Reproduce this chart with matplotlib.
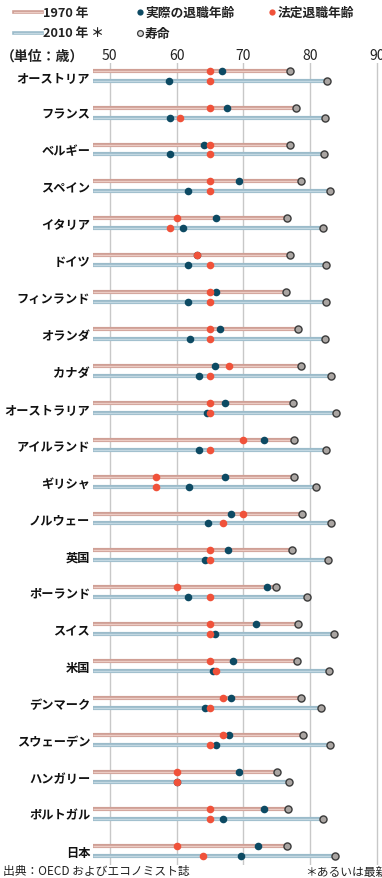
import matplotlib.pyplot as plt
from matplotlib.lines import Line2D

plt.rcParams['font.family'] = ['Noto Sans CJK JP', 'DejaVu Sans']

countries = ["オーストリア", "フランス", "ベルギー", "スペイン", "イタリア", "ドイツ",
             "フィンランド", "オランダ", "カナダ", "オーストラリア", "アイルランド",
             "ギリシャ", "ノルウェー", "英国", "ポーランド", "スイス", "米国",
             "デンマーク", "スウェーデン", "ハンガリー", "ポルトガル", "日本"]

# 1970
actual_1970 = [66.75, 67.55, 64.1, 69.3, 65.85, 63.0, 65.85, 66.5, 65.8, 67.3, 73.05,
               67.3, 68.15, 67.65, 73.5, 71.9, 68.45, 68.2, 67.85, 69.3, 73.1, 72.25]
legal_1970 = [65, 65, 65, 65, 60, 63, 65, 65, 67.9, 65, 70,
              57, 70, 65, 60, 65, 65, 67, 67, 60, 65, 60]
life_1970 = [77.0, 77.9, 77.05, 78.65, 76.6, 77.05, 76.35, 78.25, 78.65, 77.45, 77.55,
             77.6, 78.8, 77.25, 74.9, 78.25, 78.1, 78.65, 78.9, 75.0, 76.75, 76.5]

# 2010 (or latest)
actual_2010 = [58.85, 59.0, 59.05, 61.75, 61.0, 61.75, 61.75, 62.05, 63.35, 64.6, 63.3,
               61.8, 64.7, 64.2, 61.7, 65.75, 65.45, 64.25, 65.95, 60.0, 67.0, 69.65]
legal_2010 = [65, 60.45, 65, 65, 58.95, 65, 65, 65, 65, 65, 65,
              57, 66.95, 65, 65, 65, 65.95, 65, 65, 60, 65, 63.9]
life_2010 = [82.5, 82.25, 82.0, 82.95, 81.85, 82.35, 82.35, 82.25, 83.15, 83.85, 82.35,
             80.8, 83.15, 82.6, 79.5, 83.5, 82.8, 81.55, 83.0, 76.85, 81.9, 83.65]

xticks = [50, 60, 70, 80, 90]

c_dark = "#0d4a63"
c_red = "#f0523a"
c_grey = "#aaa5a2"
c_edge = "#3a3a3a"
c70_out, c70_in = "#cf9f95", "#ecccc4"
c10_out, c10_in = "#9bbbca", "#c3d8e2"

W, H = 382, 879
fig = plt.figure(figsize=(W / 100, H / 100), dpi=100)
ax = fig.add_axes([93 / W, 1 - 866 / H, 1 - 93 / W, (866 - 64) / H])

x0 = 47.5
off = 0.135
y70 = [i - off for i in range(len(countries))]
y10 = [i + off for i in range(len(countries))]

ax.hlines(y70, x0, life_1970, color=c70_out, lw=3.0, zorder=2)
ax.hlines(y70, x0, life_1970, color=c70_in, lw=1.0, zorder=2.1)
ax.hlines(y10, x0, life_2010, color=c10_out, lw=3.0, zorder=2)
ax.hlines(y10, x0, life_2010, color=c10_in, lw=1.0, zorder=2.1)

ms = 30
ax.scatter(actual_1970, y70, s=ms, color=c_dark, zorder=3, linewidths=0)
ax.scatter(actual_2010, y10, s=ms, color=c_dark, zorder=3, linewidths=0)
ax.scatter(legal_1970, y70, s=ms, color=c_red, zorder=4, linewidths=0)
ax.scatter(legal_2010, y10, s=ms, color=c_red, zorder=4, linewidths=0)
ax.scatter(life_1970, y70, s=26, color=c_grey, edgecolors=c_edge, linewidths=1.0, zorder=5)
ax.scatter(life_2010, y10, s=26, color=c_grey, edgecolors=c_edge, linewidths=1.0, zorder=5)

ax.set_xlim(x0, 90.75)
ax.set_ylim(21.39, -0.344)
ax.xaxis.tick_top()
ax.set_xticks(xticks)
ax.set_xticklabels([str(t) for t in xticks], fontsize=10, color="#222222")
ax.set_yticks(range(len(countries)))
ax.set_yticklabels(countries, fontsize=8.8, fontweight="bold", color="#111111")
ax.tick_params(length=0, pad=2)
ax.tick_params(axis="x", pad=1)
ax.grid(axis="x", color="#c8c8c8", lw=1.0, zorder=0)
ax.set_axisbelow(True)
for s in ax.spines.values():
    s.set_visible(False)

# legend drawn by hand
def fx(px):
    return px / W

def fy(py):
    return 1 - py / H

def leg_line(py, c_out, c_in):
    fig.add_artist(Line2D([fx(14), fx(42)], [fy(py), fy(py)], color=c_out, lw=2.6))
    fig.add_artist(Line2D([fx(14), fx(42)], [fy(py), fy(py)], color=c_in, lw=0.9))

def leg_dot(px, py, fc, ec=None):
    if ec is None:
        fig.add_artist(Line2D([fx(px)], [fy(py)], marker="o", ms=4.5, color=fc, mew=0))
    else:
        fig.add_artist(Line2D([fx(px)], [fy(py)], marker="o", ms=4.2, mfc=fc, mec=ec, mew=0.9))

lt = dict(fontsize=9.2, fontweight="bold", va="center", ha="left", color="#222222")
leg_line(13, c70_out, c70_in)
fig.text(fx(43), fy(13), "1970 年", **lt)
leg_line(34, c10_out, c10_in)
fig.text(fx(43), fy(34), "2010 年 ＊", **lt)
leg_dot(140, 13, c_dark)
fig.text(fx(145), fy(13), "実際の退職年齢", **lt)
leg_dot(140, 34, "#dddddd", c_edge)
fig.text(fx(145), fy(34), "寿命", **lt)
leg_dot(272, 13, c_red)
fig.text(fx(278), fy(13), "法定退職年齢", **lt)

fig.text(fx(1), fy(57), "（単位：歳）", fontsize=10, fontweight="bold", va="center",
         ha="left", color="#222222")
fig.text(fx(3), fy(872), "出典：OECD およびエコノミスト誌", fontsize=8.5, va="center",
         ha="left", color="#222222")
fig.text(fx(305), fy(872), "＊あるいは最新", fontsize=8.5, va="center", ha="left",
         color="#222222")

plt.savefig("out.png", dpi=100)
plt.close()
